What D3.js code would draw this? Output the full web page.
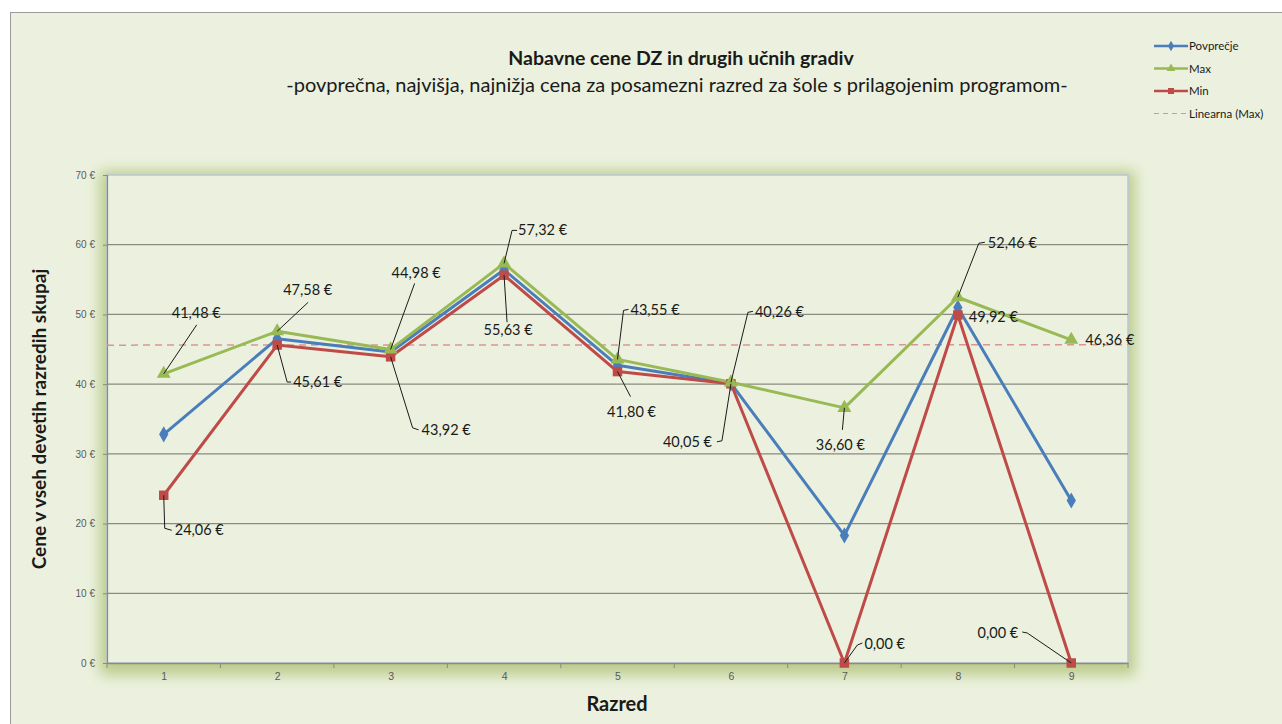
<!DOCTYPE html>
<html lang="sl">
<head>
<meta charset="UTF-8">
<title>Nabavne cene DZ</title>
<style>
  body {margin: 0; background: #fff;}
  svg {display: block; font-family: Lato, "Open Sans", sans-serif;}
  .grid line {stroke: #8a8a80; stroke-width: 1.2px;}
  .tick text {fill: #595959;}
</style>
</head>
<body>
<div id="chart"></div>
<script src="https://d3js.org/d3.v7.min.js"></script>
<script>
// data
var razredi = [1, 2, 3, 4, 5, 6, 7, 8, 9];
var povprecje = [32.8, 46.5, 44.6, 56.4, 42.7, 40.1, 18.3, 51.0, 23.3];
var maxCene = [41.48, 47.58, 44.98, 57.32, 43.55, 40.26, 36.60, 52.46, 46.36];
var minCene = [24.06, 45.61, 43.92, 55.63, 41.80, 40.05, 0.00, 49.92, 0.00];
var yTicks = [0, 10, 20, 30, 40, 50, 60, 70];

// label placement (pixels relative to point): [dx, dy, anchor, leader end, tick end]
var maxLabels = [
  [8, -61, "start", [33, -49]],
  [6, -41, "start", [31, -29]],
  [1, -77, "start", [24, -66]],
  [14, -33, "start", [8, -33], [13, -33]],
  [13, -49, "start", [6, -49], [11, -50]],
  [24, -70, "start", [17, -70], [22, -71]],
  [-4, 37, "middle", [-2, 22]],
  [30, -54, "start", [21, -54], [27, -55]],
  [14, 0, "start"]
];
var minLabels = [
  [11, 35, "start", [1, 33], [8, 35]],
  [16, 37, "start", [10, 37], [14, 37]],
  [31, 73, "start", [22, 71], [28, 73]],
  [4, 55, "middle", [3, 47]],
  [14, 40, "middle", [13, 25]],
  [-19, 58, "end", [-9, 57], [-14, 58]],
  [20, -19, "start", [13, -18], [18, -20]],
  [11, 2, "start"],
  [-53, -30, "end", [-44, -30], [-49, -31]]
];

var width = 1282, height = 724;
var plot = {left: 107, right: 1128, top: 175, bottom: 663};

var svg = d3.select("#chart").append("svg")
    .attr("width", width)
    .attr("height", height);

var defs = svg.append("defs");
defs.append("filter").attr("id", "glow")
    .attr("x", "-10%").attr("y", "-10%").attr("width", "120%").attr("height", "120%")
  .append("feGaussianBlur").attr("stdDeviation", 7);

// chart area
svg.append("rect")
    .attr("x", 10.5).attr("y", 12.5)
    .attr("width", 1280).attr("height", 730)
    .attr("fill", "#ebf1de")
    .attr("stroke", "#9a9a9a");

// soft green glow round the plot area
svg.append("rect")
    .attr("x", plot.left - 7).attr("y", plot.top - 4)
    .attr("width", plot.right - plot.left + 14).attr("height", plot.bottom - plot.top + 16)
    .attr("fill", "#bccb8a")
    .attr("filter", "url(#glow)");

svg.append("rect")
    .attr("x", plot.left).attr("y", plot.top)
    .attr("width", plot.right - plot.left).attr("height", plot.bottom - plot.top)
    .attr("fill", "#ebf1de")
    .attr("stroke", "#b9c6d6")
    .attr("stroke-width", 1.5);

var x = d3.scalePoint()
    .domain(razredi)
    .range([plot.left, plot.right])
    .padding(0.5);

var xBand = d3.scaleBand()
    .domain(razredi)
    .range([plot.left, plot.right]);

var y = d3.scaleLinear()
    .domain([0, 70])
    .range([plot.bottom, plot.top]);

// gridlines
svg.append("g").attr("class", "grid")
  .selectAll("line")
  .data(yTicks.filter(function(d) { return d > 0 && d < 70; }))
  .enter().append("line")
    .attr("x1", plot.left).attr("x2", plot.right)
    .attr("y1", function(d) { return y(d); })
    .attr("y2", function(d) { return y(d); });

// y axis
var yAxis = svg.append("g")
    .attr("transform", "translate(" + plot.left + ",0)")
    .call(d3.axisLeft(y).tickValues(yTicks).tickSize(4).tickPadding(8)
      .tickFormat(function(d) { return d + " €"; }));
yAxis.selectAll("text").style("font-size", "10px");
yAxis.select(".domain").attr("stroke", "#8a8a80").attr("stroke-width", 1.2);
yAxis.selectAll(".tick line").attr("stroke", "#8a8a80");

// x axis
var xAxis = svg.append("g")
    .attr("transform", "translate(0," + plot.bottom + ")")
    .call(d3.axisBottom(x).tickSize(0).tickPadding(10));
xAxis.selectAll("text").style("font-size", "10.5px").attr("fill", "#404040");
xAxis.select(".domain").attr("stroke", "#8a8a80").attr("stroke-width", 1.5);
xAxis.selectAll(".boundary")
  .data(razredi.concat(["end"]))
  .enter().append("line")
    .attr("x1", function(d) { return d === "end" ? plot.right : xBand(d); })
    .attr("x2", function(d) { return d === "end" ? plot.right : xBand(d); })
    .attr("y1", 0).attr("y2", 5)
    .attr("stroke", "#8a8a80");

// linear trend of Max
var meanX = d3.mean(razredi), meanY = d3.mean(maxCene);
var slope = d3.sum(razredi, function(r, i) { return (r - meanX) * (maxCene[i] - meanY); }) /
            d3.sum(razredi, function(r) { return (r - meanX) * (r - meanX); });
var trend = function(r) { return meanY + slope * (r - meanX); };
svg.append("line")
    .attr("x1", plot.left).attr("x2", plot.right)
    .attr("y1", y(trend(0.5))).attr("y2", y(trend(9.5)))
    .attr("stroke", "#d99694")
    .attr("stroke-width", 1.5)
    .attr("stroke-dasharray", "7,5");

var series = [
  {name: "Povprečje", values: povprecje, color: "#4a7ebb", symbol: d3.symbolDiamond, size: 75},
  {name: "Min", values: minCene, color: "#be4b48", symbol: d3.symbolSquare, size: 90},
  {name: "Max", values: maxCene, color: "#98b954", symbol: d3.symbolTriangle, size: 85}
];

var line = d3.line()
    .x(function(d, i) { return x(razredi[i]); })
    .y(function(d) { return y(d); });

series.forEach(function(s) {
  svg.append("path")
      .datum(s.values)
      .attr("fill", "none")
      .attr("stroke", s.color)
      .attr("stroke-width", 3)
      .attr("stroke-linejoin", "round")
      .attr("d", line);
});
series.forEach(function(s) {
  svg.append("g").selectAll("path")
    .data(s.values)
    .enter().append("path")
      .attr("transform", function(d, i) { return "translate(" + x(razredi[i]) + "," + y(d) + ")"; })
      .attr("d", d3.symbol().type(s.symbol).size(s.size))
      .attr("fill", s.color);
});

// data labels with leader lines
var fmt = function(v) { return v.toFixed(2).replace(".", ",") + " €"; };
function labels(values, place) {
  var g = svg.append("g");
  values.forEach(function(v, i) {
    var px = x(razredi[i]), py = y(v), p = place[i];
    if (p[3]) {
      var pts = [[px, py], [px + p[3][0], py + p[3][1]]];
      if (p[4]) pts.push([px + p[4][0], py + p[4][1]]);
      g.append("path")
          .attr("d", d3.line()(pts))
          .attr("fill", "none")
          .attr("stroke", "#1a1a1a")
          .attr("stroke-width", 1);
    }
    g.append("text")
        .attr("x", px + p[0])
        .attr("y", py + p[1])
        .attr("dy", "0.35em")
        .attr("text-anchor", p[2])
        .style("font-size", "14.5px")
        .attr("fill", "#1a1a1a")
        .text(fmt(v));
  });
}
labels(maxCene, maxLabels);
labels(minCene, minLabels);

// titles
svg.append("text")
    .attr("x", 681).attr("y", 65)
    .attr("text-anchor", "middle")
    .style("font-size", "19.5px").style("font-weight", "bold")
    .attr("fill", "#1a1a1a")
    .text("Nabavne cene DZ in drugih učnih gradiv");
svg.append("text")
    .attr("x", 677).attr("y", 92)
    .attr("text-anchor", "middle")
    .style("font-size", "20px")
    .attr("fill", "#1a1a1a")
    .text("-povprečna, najvišja, najnižja cena za posamezni razred za šole s prilagojenim programom-");
svg.append("text")
    .attr("transform", "translate(46,419) rotate(-90)")
    .attr("text-anchor", "middle")
    .style("font-size", "19px").style("font-weight", "bold")
    .attr("fill", "#1a1a1a")
    .text("Cene v vseh devetih razredih skupaj");
svg.append("text")
    .attr("x", 617).attr("y", 711)
    .attr("text-anchor", "middle")
    .style("font-size", "20px").style("font-weight", "bold")
    .attr("fill", "#1a1a1a")
    .text("Razred");

// legend
var legendItems = [
  {name: "Povprečje", color: "#4a7ebb", symbol: d3.symbolDiamond},
  {name: "Max", color: "#98b954", symbol: d3.symbolTriangle},
  {name: "Min", color: "#be4b48", symbol: d3.symbolSquare},
  {name: "Linearna (Max)", color: "#d99694", dash: true}
];
var legend = svg.append("g").attr("transform", "translate(1154,46)");
legendItems.forEach(function(d, i) {
  var row = legend.append("g").attr("transform", "translate(0," + i * 22.5 + ")");
  row.append("line")
      .attr("x1", 0).attr("x2", 34)
      .attr("stroke", d.color)
      .attr("stroke-width", d.dash ? 1.2 : 2.5)
      .attr("stroke-dasharray", d.dash ? "5,4" : null);
  if (d.symbol) {
    row.append("path")
        .attr("transform", "translate(17,0)")
        .attr("d", d3.symbol().type(d.symbol).size(d.symbol === d3.symbolSquare ? 36 : 32))
        .attr("fill", d.color);
  }
  row.append("text")
      .attr("x", 35).attr("dy", "0.35em")
      .style("font-size", "11.5px")
      .attr("fill", "#1a1a1a")
      .text(d.name);
});
</script>
</body>
</html>
